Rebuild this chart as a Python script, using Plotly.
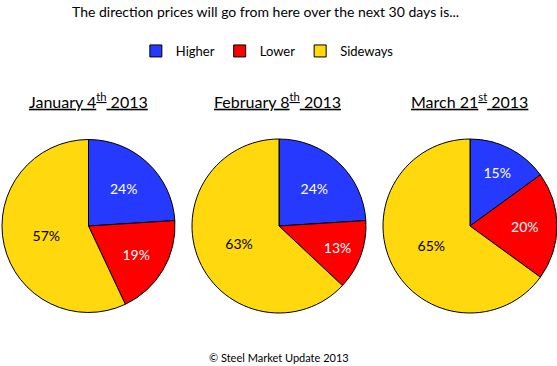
import plotly.graph_objects as go

categories = ["Higher", "Lower", "Sideways"]
dates = ["January 4<sup>th</sup> 2013", "February 8<sup>th</sup> 2013", "March 21<sup>st</sup> 2013"]
jan_values = [24, 19, 57]
feb_values = [24, 13, 63]
mar_values = [15, 20, 65]
colors = ["#2639FF", "#FF0000", "#FFD80D"]
text_colors = ["white", "white", "black"]

W, H = 557, 366
FONT = "Lato"

def px_dom(x0, x1, y0, y1):
    return dict(x=[x0 / W, x1 / W], y=[1 - y1 / H, 1 - y0 / H])

domains = [px_dom(2, 175, 139, 313), px_dom(192, 366, 139, 313), px_dom(383, 557, 139, 313)]

fig = go.Figure()
for i, vals in enumerate([jan_values, feb_values, mar_values]):
    fig.add_trace(go.Pie(
        labels=categories, values=vals, sort=False, direction="clockwise", rotation=0,
        marker=dict(colors=colors, line=dict(color="black", width=1)),
        texttemplate="%{value}%", textposition="inside", insidetextorientation="horizontal",
        textfont=dict(family=FONT, size=14, color=text_colors),
        domain=domains[i], showlegend=(i == 0), hoverinfo="skip",
    ))

annotations = [
    dict(text="The direction prices will go from here over the next 30 days is...",
         x=0.477, y=1 - 11 / H, xref="paper", yref="paper", showarrow=False,
         xanchor="center", yanchor="middle",
         font=dict(family=FONT, size=14, color="black")),
    dict(text="© Steel Market Update 2013", x=0.5, y=1 - 357 / H, xref="paper", yref="paper",
         showarrow=False, xanchor="center", yanchor="middle",
         font=dict(family=FONT, size=11, color="black")),
]
centers = [88, 277, 469]
for c, d in zip(centers, dates):
    annotations.append(dict(text="<u>" + d + "</u>", x=c / W, y=1 - 100 / H, xref="paper", yref="paper",
                            showarrow=False, xanchor="center", yanchor="middle",
                            font=dict(family=FONT, size=16, color="black")))

fig.update_layout(
    width=W, height=H, margin=dict(l=0, r=0, t=0, b=0),
    paper_bgcolor="white", plot_bgcolor="white",
    legend=dict(orientation="h", x=0.48, xanchor="center", y=1 - 36 / H, yanchor="top",
                font=dict(family=FONT, size=13, color="black"), traceorder="normal",
                itemwidth=30, tracegroupgap=0),
    annotations=annotations,
)
fig.write_html("out.html", config={"displayModeBar": False},
               post_script="document.body.style.margin='0';")
